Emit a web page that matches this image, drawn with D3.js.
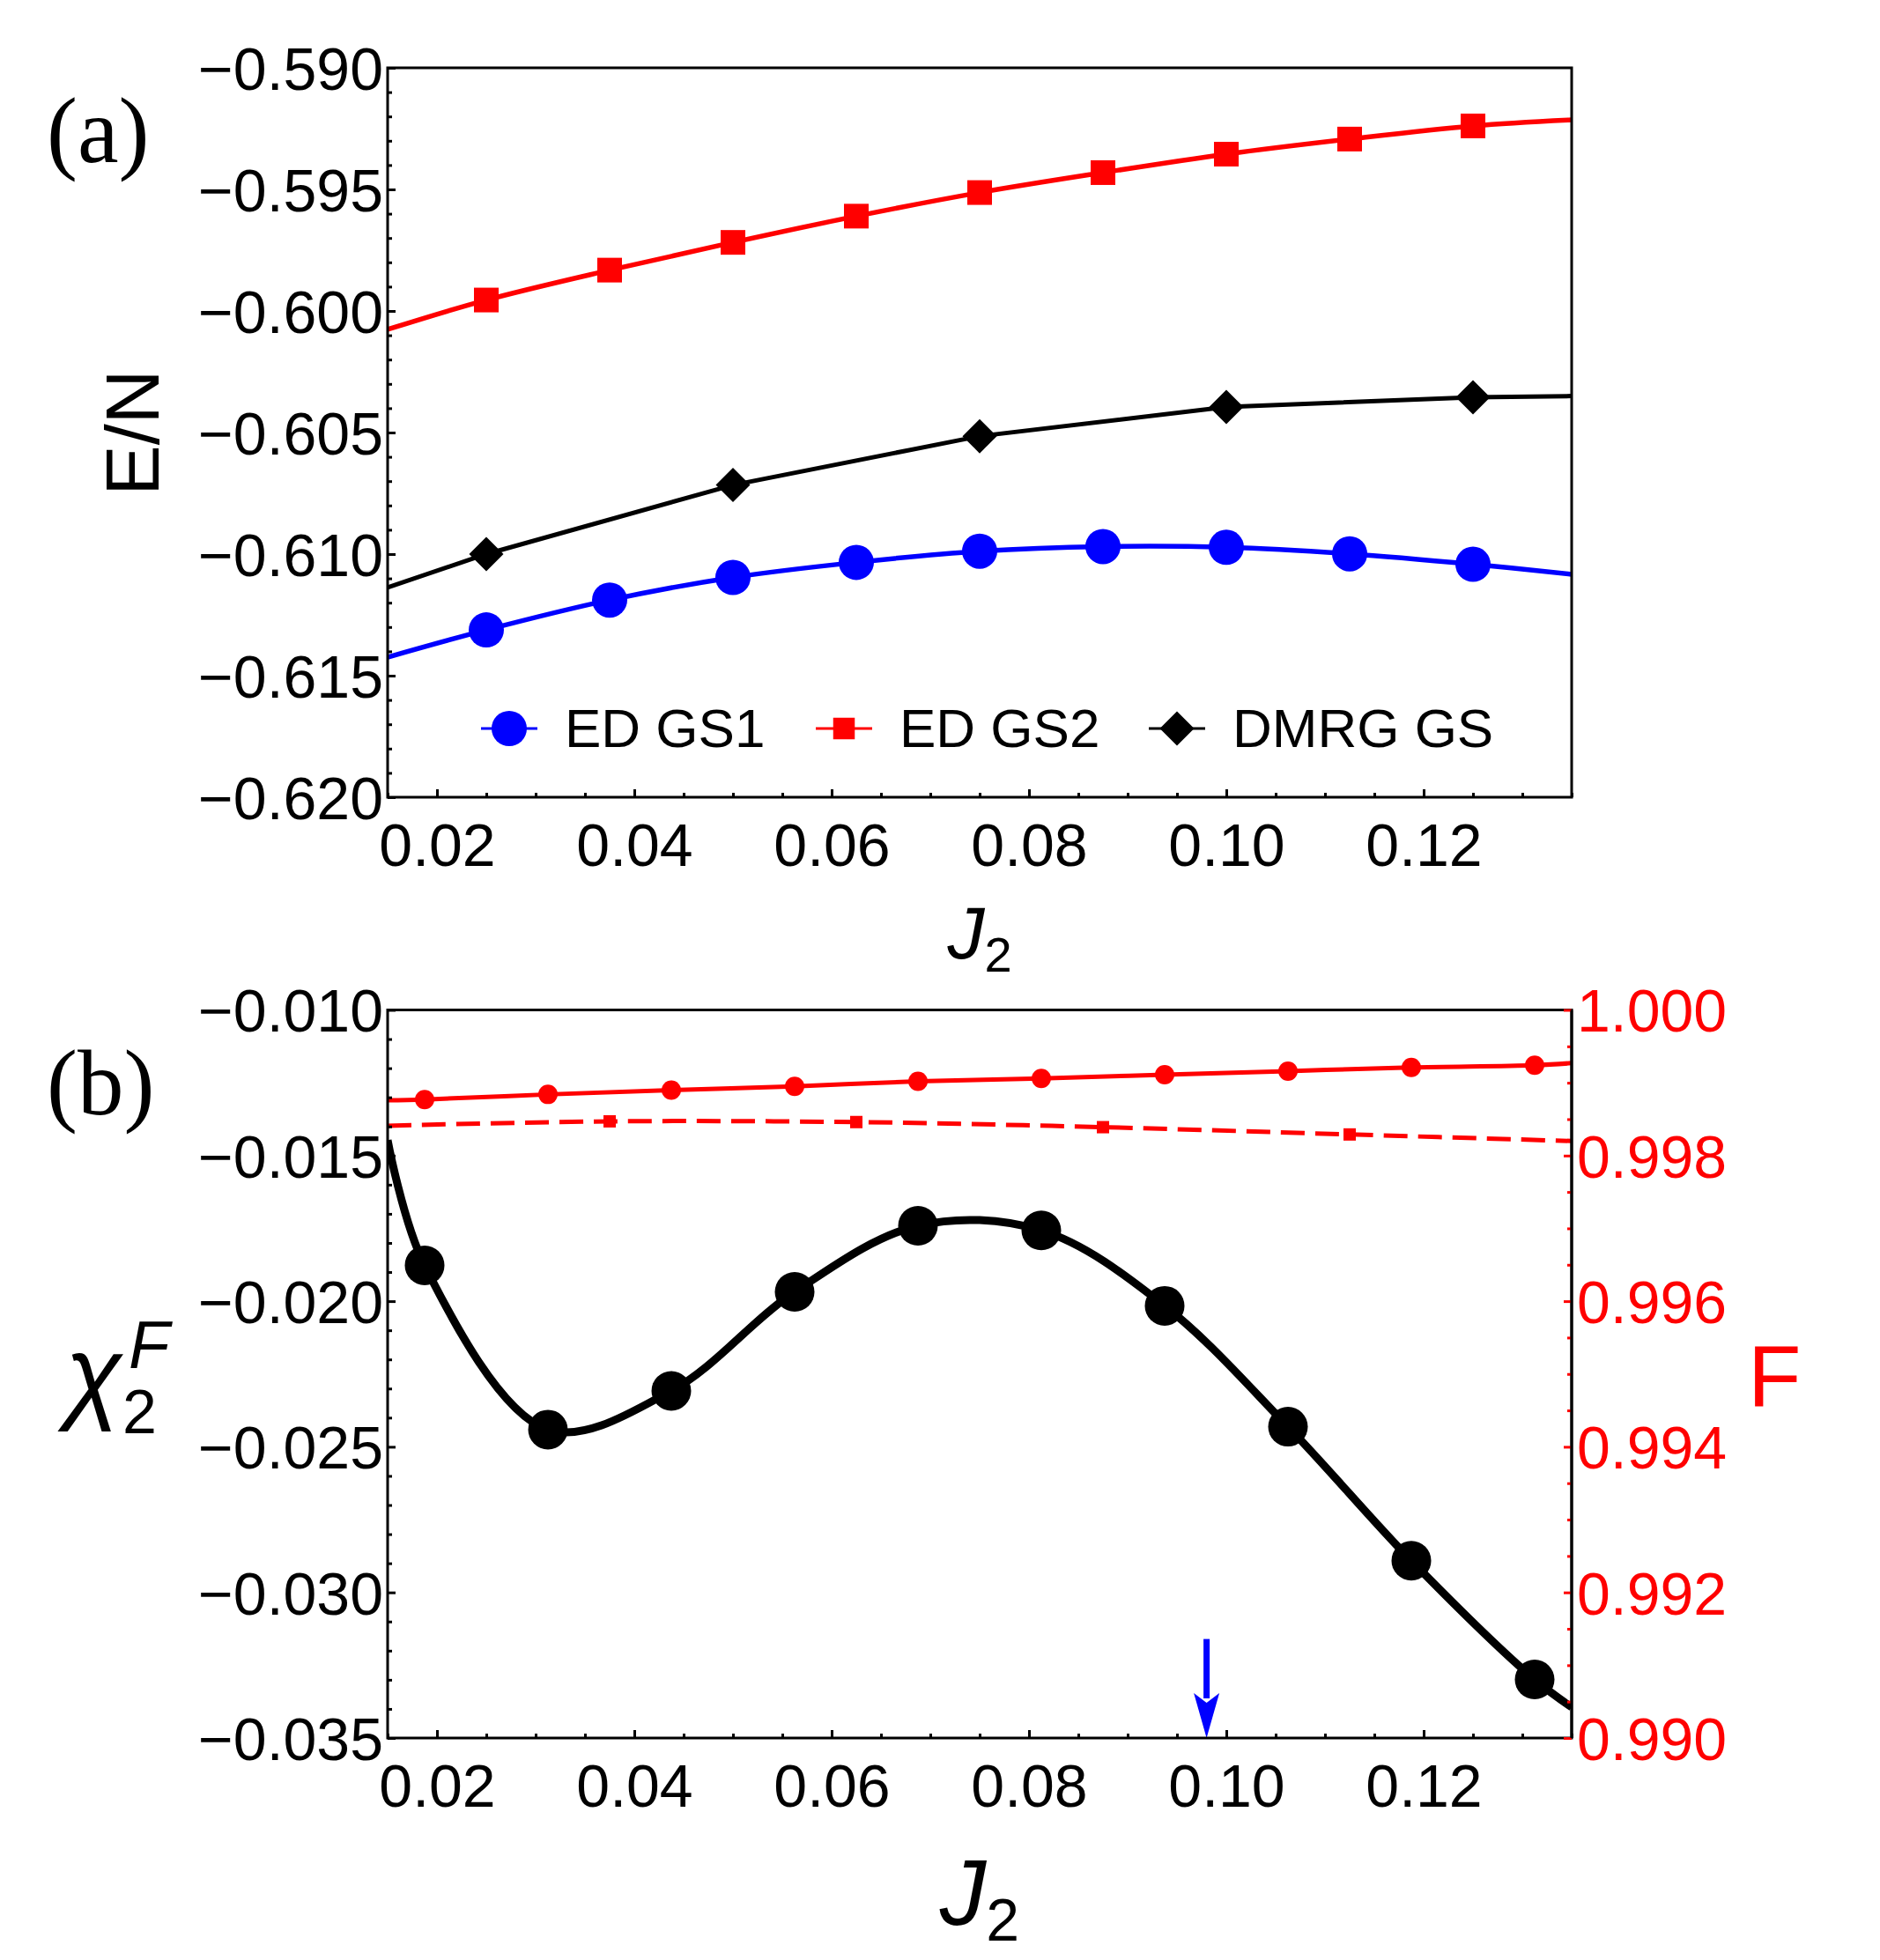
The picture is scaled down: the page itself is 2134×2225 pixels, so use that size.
<!DOCTYPE html>
<html>
<head>
<meta charset="utf-8">
<script src="https://cdn.jsdelivr.net/npm/d3@7"></script>
<style>
  body { margin: 0; background: #fff; }
  svg { display: block; }
</style>
</head>
<body>
<svg id="chart" width="2134" height="2225"></svg>
<script>
// ---- panel (a): ground state energy per site ----
const j2Grid = [0.025, 0.0375, 0.05, 0.0625, 0.075, 0.0875, 0.1, 0.1125, 0.125];
const edGS1 = [-0.61312, -0.61189, -0.61096, -0.61034, -0.60988, -0.60969, -0.60972, -0.60999, -0.61042];
const edGS2 = [-0.59955, -0.59832, -0.59718, -0.59610, -0.59513, -0.59431, -0.59355, -0.59293, -0.59239];
const j2Dmrg = [0.025, 0.05, 0.075, 0.1, 0.125];
const dmrgGS = [-0.6100, -0.60716, -0.60515, -0.60395, -0.60355];
// where each curve meets the frame (J2 = 0.015 and 0.135)
const edGS1Ends = [-0.61424, -0.61083];
const edGS2Ends = [-0.60076, -0.59214];
const dmrgEnds = [-0.61137, -0.6035];
const legendLabels = ["ED GS1", "ED GS2", "DMRG GS"];

// ---- panel (b): fidelity susceptibility and fidelity ----
const j2Mid = [0.01875, 0.03125, 0.04375, 0.05625, 0.06875, 0.08125, 0.09375, 0.10625, 0.11875, 0.13125];
const chiF = [-0.01877, -0.02441, -0.02308, -0.01968, -0.01741, -0.01757, -0.02016, -0.02431, -0.02891, -0.03299];
const fid1 = [0.99877, 0.99884, 0.99890, 0.99895, 0.99902, 0.99906, 0.99911, 0.99916, 0.99921, 0.99924];
const j2Sq = [0.0375, 0.0625, 0.0875, 0.1125];
const fid2 = [0.99847, 0.99846, 0.99839, 0.99829];
const chiEnds = [-0.01447, -0.03394];
const fid1Ends = [0.99876, 0.99927];
const fid2Ends = [0.99841, 0.99820];
const arrowJ2 = 0.098, arrowTop = -0.0316;

// ticks
const xMajor = [0.02, 0.04, 0.06, 0.08, 0.10, 0.12];
const yAMajor = [-0.620, -0.615, -0.610, -0.605, -0.600, -0.595, -0.590];
const yBMajor = [-0.035, -0.030, -0.025, -0.020, -0.015, -0.010];
const fMajor = [0.990, 0.992, 0.994, 0.996, 0.998, 1.000];

const sans = "'Liberation Sans', Arial, Helvetica, sans-serif";
const serif = "'Liberation Serif', 'Times New Roman', serif";
const RED = "#ff0000", BLUE = "#0000ff";

const svg = d3.select("#chart");
const L = 440, R = 1784;
const aTop = 77, aBot = 905, bTop = 1146.5, bBot = 1973;

const x = d3.scaleLinear().domain([0.015, 0.135]).range([L, R]);
const yA = d3.scaleLinear().domain([-0.620, -0.590]).range([aBot, aTop]);
const yB = d3.scaleLinear().domain([-0.035, -0.010]).range([bBot, bTop]);
const yF = d3.scaleLinear().domain([0.990, 1.000]).range([bBot, bTop]);

const xMinor = d3.range(3, 28).filter(i => i % 4 !== 0).map(i => i * 0.005);
const yAMinor = d3.range(-620, -589).filter(i => i % 5 !== 0).map(i => i / 1000);
const yBMinor = d3.range(-35, -9).filter(i => i % 5 !== 0).map(i => i / 1000);
const fMinor = d3.range(1980, 2001).filter(i => i % 4 !== 0).map(i => i / 2000);

const fmt3 = d3.format(".3f"), fmt2 = d3.format(".2f");

function styleAxis(g, color, size) {
  g.attr("font-family", sans).attr("font-size", size || 68);
  g.select(".domain").remove();
  g.selectAll(".tick line").attr("stroke", color).attr("stroke-width", 3);
  g.selectAll(".tick text").attr("fill", color);
}

function drawAxes(yScale, yMaj, yMin, top, bot) {
  svg.append("g").attr("transform", `translate(0,${bot})`)
    .call(d3.axisBottom(x).tickValues(xMinor).tickSize(-5).tickFormat(""))
    .call(g => styleAxis(g, "#000"));
  svg.append("g").attr("transform", `translate(0,${bot})`)
    .call(d3.axisBottom(x).tickValues(xMajor).tickSize(-9).tickPadding(30).tickFormat(fmt2))
    .call(g => styleAxis(g, "#000"));
  svg.append("g").attr("transform", `translate(${L},0)`)
    .call(d3.axisLeft(yScale).tickValues(yMin).tickSize(-5).tickFormat(""))
    .call(g => styleAxis(g, "#000"));
  svg.append("g").attr("transform", `translate(${L},0)`)
    .call(d3.axisLeft(yScale).tickValues(yMaj).tickSize(-9).tickPadding(5).tickFormat(fmt3))
    .call(g => styleAxis(g, "#000"))
    .call(g => g.selectAll(".tick text").attr("dy", "0.36em"));
  svg.append("rect").attr("x", L).attr("y", top)
    .attr("width", R - L).attr("height", bot - top)
    .attr("fill", "none").attr("stroke", "#000").attr("stroke-width", 3);
}

function clip(id, top, bot) {
  svg.append("clipPath").attr("id", id)
    .append("rect").attr("x", L).attr("y", top).attr("width", R - L).attr("height", bot - top);
}

function withEnds(xs, ys, ends) {
  return [[0.015, ends[0]], ...xs.map((v, i) => [v, ys[i]]), [0.135, ends[1]]];
}

// ================= panel (a) =================
clip("clipA", aTop, aBot);
const gA = svg.append("g").attr("clip-path", "url(#clipA)");

const lineA = curve => d3.line().x(d => x(d[0])).y(d => yA(d[1])).curve(curve);

gA.append("path").datum(withEnds(j2Grid, edGS2, edGS2Ends))
  .attr("d", lineA(d3.curveCatmullRom)).attr("fill", "none")
  .attr("stroke", RED).attr("stroke-width", 5.5);
gA.append("path").datum(withEnds(j2Dmrg, dmrgGS, dmrgEnds))
  .attr("d", lineA(d3.curveLinear)).attr("fill", "none")
  .attr("stroke", "#000").attr("stroke-width", 5);
gA.append("path").datum(withEnds(j2Grid, edGS1, edGS1Ends))
  .attr("d", lineA(d3.curveCatmullRom)).attr("fill", "none")
  .attr("stroke", BLUE).attr("stroke-width", 5.5);

gA.selectAll(".sq").data(j2Grid).join("path")
  .attr("transform", (d, i) => `translate(${x(d)},${yA(edGS2[i])})`)
  .attr("d", d3.symbol(d3.symbolSquare, 784)).attr("fill", RED);
gA.selectAll(".dm").data(j2Dmrg).join("path")
  .attr("transform", (d, i) => `translate(${x(d)},${yA(dmrgGS[i])}) rotate(45)`)
  .attr("d", d3.symbol(d3.symbolSquare, 760)).attr("fill", "#000");
gA.selectAll(".ci").data(j2Grid).join("circle")
  .attr("cx", d => x(d)).attr("cy", (d, i) => yA(edGS1[i]))
  .attr("r", 20).attr("fill", BLUE);

drawAxes(yA, yAMajor, yAMinor, aTop, aBot);

// legend
const legendX = [578, 958, 1336], legendY = 827;
const legColors = [BLUE, RED, "#000"];
legendLabels.forEach((lab, i) => {
  const g = svg.append("g").attr("transform", `translate(${legendX[i]},${legendY})`);
  g.append("line").attr("x1", -32).attr("x2", 32)
    .attr("stroke", legColors[i]).attr("stroke-width", 3);
  if (i === 0) g.append("circle").attr("r", 20).attr("fill", BLUE);
  if (i === 1) g.append("path").attr("d", d3.symbol(d3.symbolSquare, 600)).attr("fill", RED);
  if (i === 2) g.append("path").attr("transform", "rotate(45)")
    .attr("d", d3.symbol(d3.symbolSquare, 760)).attr("fill", "#000");
  g.append("text").attr("x", 63).attr("y", 21)
    .attr("font-family", sans).attr("font-size", 62).text(lab);
});

// labels
svg.append("text").attr("x", 53).attr("y", 184)
  .attr("font-family", serif).attr("font-size", 105).text("(a)");
svg.append("text").attr("transform", "translate(180,491) rotate(-90)")
  .attr("text-anchor", "middle").attr("font-family", sans).attr("font-size", 86).text("E/N");
svg.append("text").attr("x", 1112).attr("y", 1088).attr("text-anchor", "middle")
  .attr("font-family", sans).attr("font-size", 84)
  .call(t => {
    t.append("tspan").attr("font-style", "italic").text("J");
    t.append("tspan").attr("font-size", 56).attr("dy", 15).text("2");
  });

// ================= panel (b) =================
clip("clipB", bTop, bBot);
const gB = svg.append("g").attr("clip-path", "url(#clipB)");

const lineF = d3.line().x(d => x(d[0])).y(d => yF(d[1])).curve(d3.curveCatmullRom);
const lineChi = d3.line().x(d => x(d[0])).y(d => yB(d[1])).curve(d3.curveCatmullRom);

gB.append("path").datum(withEnds(j2Mid, fid1, fid1Ends))
  .attr("d", lineF).attr("fill", "none").attr("stroke", RED).attr("stroke-width", 5);
gB.append("path").datum(withEnds(j2Sq, fid2, fid2Ends))
  .attr("d", lineF).attr("fill", "none").attr("stroke", RED).attr("stroke-width", 5)
  .attr("stroke-dasharray", "27 12");
gB.append("path").datum(withEnds(j2Mid, chiF, chiEnds))
  .attr("d", lineChi).attr("fill", "none").attr("stroke", "#000").attr("stroke-width", 9);

gB.selectAll(".f1").data(j2Mid).join("circle")
  .attr("cx", d => x(d)).attr("cy", (d, i) => yF(fid1[i])).attr("r", 11).attr("fill", RED);
gB.selectAll(".f2").data(j2Sq).join("path")
  .attr("transform", (d, i) => `translate(${x(d)},${yF(fid2[i])})`)
  .attr("d", d3.symbol(d3.symbolSquare, 196)).attr("fill", RED);
gB.selectAll(".chi").data(j2Mid).join("circle")
  .attr("cx", d => x(d)).attr("cy", (d, i) => yB(chiF[i])).attr("r", 22.5).attr("fill", "#000");

// blue arrow marking the transition
const ax = x(arrowJ2), ayTop = yB(arrowTop), ayTip = yB(-0.035);
gB.append("rect").attr("x", ax - 3.5).attr("y", ayTop).attr("width", 7)
  .attr("height", ayTip - ayTop - 45).attr("fill", BLUE);
gB.append("path")
  .attr("d", `M${ax - 14.5},${ayTip - 51} L${ax},${ayTip - 40} L${ax + 14.5},${ayTip - 51} L${ax},${ayTip} Z`)
  .attr("fill", BLUE);

drawAxes(yB, yBMajor, yBMinor, bTop, bBot);

// right axis: fidelity
svg.append("g").attr("transform", `translate(${R},0)`)
  .call(d3.axisRight(yF).tickValues(fMinor).tickSize(-5).tickFormat(""))
  .call(g => styleAxis(g, RED));
svg.append("g").attr("transform", `translate(${R},0)`)
  .call(d3.axisRight(yF).tickValues(fMajor).tickSize(-9).tickPadding(6).tickFormat(fmt3))
  .call(g => styleAxis(g, RED))
  .call(g => g.selectAll(".tick text").attr("dy", "0.36em"));
svg.append("line").attr("x1", R).attr("x2", R).attr("y1", bTop).attr("y2", bBot)
  .attr("stroke", "#000").attr("stroke-width", 3);

// labels
svg.append("text").attr("x", 53).attr("y", 1265)
  .attr("font-family", serif).attr("font-size", 105).text("(b)");
const chiLab = svg.append("text").attr("font-family", sans);
chiLab.append("tspan").attr("x", 74).attr("y", 1600).attr("font-size", 118)
  .attr("font-style", "italic").text("χ");
chiLab.append("tspan").attr("x", 139).attr("y", 1627).attr("font-size", 70).text("2");
chiLab.append("tspan").attr("x", 146).attr("y", 1553).attr("font-size", 76)
  .attr("font-style", "italic").text("F");
svg.append("text").attr("x", 1984).attr("y", 1596)
  .attr("font-family", sans).attr("font-size", 99).attr("fill", RED).text("F");
svg.append("text").attr("x", 1112).attr("y", 2185).attr("text-anchor", "middle")
  .attr("font-family", sans).attr("font-size", 105)
  .call(t => {
    t.append("tspan").attr("font-style", "italic").text("J");
    t.append("tspan").attr("font-size", 68).attr("dy", 18).text("2");
  });
</script>
</body>
</html>
